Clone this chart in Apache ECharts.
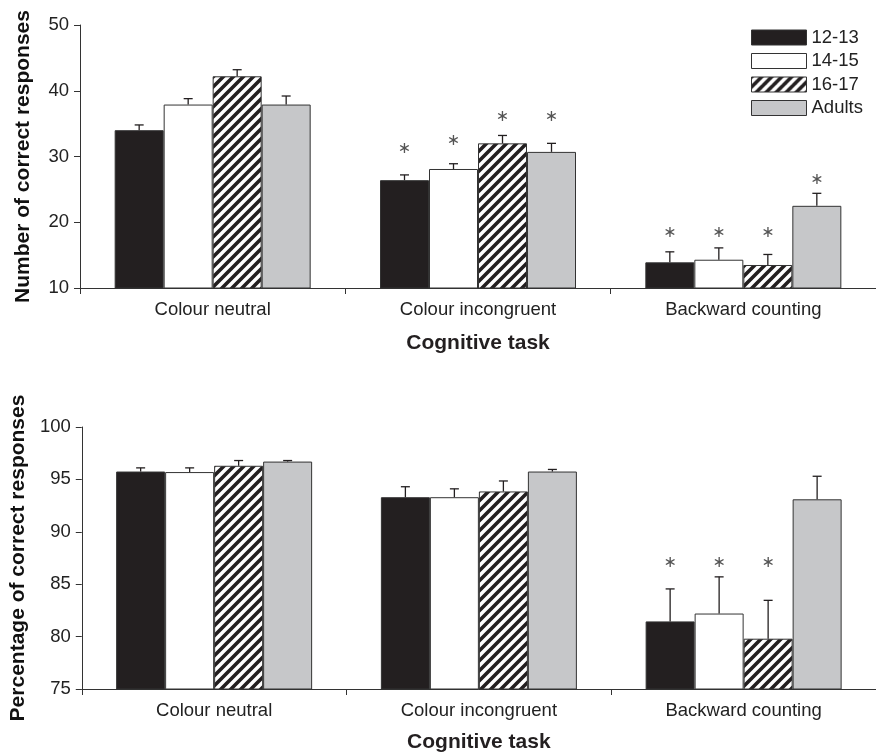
<!DOCTYPE html>
<html>
<head>
<meta charset="utf-8">
<script src="https://cdn.jsdelivr.net/npm/echarts@6/dist/echarts.min.js"></script>
<style>html,body{margin:0;padding:0;background:#fff}#c{width:876px;height:754px}</style>
</head>
<body>
<div id="c"></div>
<script>
// ---- data ----
const categories = ['Colour neutral', 'Colour incongruent', 'Backward counting'];
const groups = ['12-13', '14-15', '16-17', 'Adults'];
const countTicks = [10, 20, 30, 40, 50];
const pctTicks = [75, 80, 85, 90, 95, 100];

const count1213 = [34.0, 26.4, 13.9];
const count1415 = [37.9, 28.1, 14.3];
const count1617 = [42.2, 32.0, 13.5];
const countAdults = [37.9, 30.7, 22.5];
const countErr1213 = [0.8, 0.8, 1.6];
const countErr1415 = [0.9, 0.8, 1.8];
const countErr1617 = [1.0, 1.2, 1.6];
const countErrAdults = [1.3, 1.3, 1.9];
const countStar1213 = [null, 31.2, 18.4];
const countStar1415 = [null, 32.4, 18.4];
const countStar1617 = [null, 36.1, 18.4];
const countStarAdults = [null, 36.1, 26.5];

const pct1213 = [95.75, 93.3, 81.45];
const pct1415 = [95.7, 93.3, 82.2];
const pct1617 = [96.3, 93.85, 79.8];
const pctAdults = [96.7, 95.75, 93.1];
const pctErr1213 = [0.35, 1.0, 3.1];
const pctErr1415 = [0.4, 0.8, 3.5];
const pctErr1617 = [0.5, 1.0, 3.66];
const pctErrAdults = [0.1, 0.2, 2.2];
const pctStar1213 = [null, null, 87.0];
const pctStar1415 = [null, null, 87.0];
const pctStar1617 = [null, null, 87.0];
const pctStarAdults = [null, null, null];

// ---- styles ----
const FONT = 'Liberation Sans';
const INK = '#231f20';
const AXIS = '#333333';
const BAR_W = 49;

function makeHatch() {
  const c = document.createElement('canvas');
  c.width = 10; c.height = 10;
  const ctx = c.getContext('2d');
  ctx.fillStyle = '#ffffff';
  ctx.fillRect(0, 0, 10, 10);
  ctx.strokeStyle = INK;
  ctx.lineWidth = 3.6;
  ctx.beginPath();
  ctx.moveTo(-3, 13); ctx.lineTo(13, -3);
  ctx.moveTo(-8, 8); ctx.lineTo(8, -8);
  ctx.moveTo(2, 18); ctx.lineTo(18, 2);
  ctx.stroke();
  return c;
}
const hatch = { image: makeHatch(), repeat: 'repeat' };
const fills = [INK, '#ffffff', hatch, '#c6c7c9'];

const chart = echarts.init(document.getElementById('c'));

function yAxisCfg(gridIndex, ticks, name) {
  return {
    type: 'value', gridIndex: gridIndex,
    min: ticks[0], max: ticks[ticks.length - 1], interval: ticks[1] - ticks[0],
    name: name, nameLocation: 'middle', nameGap: 46,
    nameTextStyle: { fontFamily: FONT, fontSize: 21, fontWeight: 700, color: '#111' },
    axisLine: { show: true, lineStyle: { color: AXIS, width: 1 } },
    axisTick: { show: true, length: 6, lineStyle: { color: AXIS } },
    axisLabel: { fontFamily: FONT, fontSize: 18.5, color: '#222', margin: 11 },
    splitLine: { show: false }
  };
}
function xAxisCfg(gridIndex, gap) {
  return {
    type: 'category', gridIndex: gridIndex, data: categories,
    name: 'Cognitive task', nameLocation: 'middle', nameGap: gap,
    nameTextStyle: { fontFamily: FONT, fontSize: 21, fontWeight: 700, color: INK },
    axisLine: { show: true, lineStyle: { color: AXIS, width: 1 } },
    axisTick: { show: true, length: 6, lineStyle: { color: AXIS } },
    axisLabel: { fontFamily: FONT, fontSize: 18.5, color: '#222', margin: 12 }
  };
}

const series = [];
function addSet(gridIndex, means, errs, stars) {
  means.forEach(function (m, gi) {
    series.push({
      type: 'bar', name: groups[gi], xAxisIndex: gridIndex, yAxisIndex: gridIndex,
      data: m, barWidth: BAR_W, barGap: '0%',
      itemStyle: { color: fills[gi], borderColor: AXIS, borderWidth: 1 },
      emphasis: { disabled: true }
    });
  });
  means.forEach(function (m, gi) {
    const errArr = errs[gi], starArr = stars[gi];
    series.push({
      type: 'custom', name: groups[gi], xAxisIndex: gridIndex, yAxisIndex: gridIndex,
      z: 5, clip: false, silent: true,
      data: m.map(function (v, i) { return [i, v, errArr[i]]; }),
      renderItem: function (params, api) {
        const cat = api.value(0), v = api.value(1), e = api.value(2);
        const base = api.coord([cat, v]);
        const top = api.coord([cat, v + e]);
        const x = base[0] + (gi - 1.5) * BAR_W;
        const st = { stroke: INK, lineWidth: 1.3 };
        const children = [
          { type: 'line', shape: { x1: x, y1: base[1], x2: x, y2: top[1] }, style: st },
          { type: 'line', shape: { x1: x - 4.5, y1: top[1], x2: x + 4.5, y2: top[1] }, style: st }
        ];
        const s = starArr[params.dataIndex];
        if (s !== null && s !== undefined) {
          const sp = api.coord([cat, s]);
          children.push({
            type: 'text',
            style: { text: '\u2217', x: x, y: sp[1], fill: '#555', font: '16px "DejaVu Sans"',
              textAlign: 'center', textVerticalAlign: 'middle' }
          });
        }
        return { type: 'group', children: children };
      }
    });
  });
}
addSet(0, [count1213, count1415, count1617, countAdults],
  [countErr1213, countErr1415, countErr1617, countErrAdults],
  [countStar1213, countStar1415, countStar1617, countStarAdults]);
addSet(1, [pct1213, pct1415, pct1617, pctAdults],
  [pctErr1213, pctErr1415, pctErr1617, pctErrAdults],
  [pctStar1213, pctStar1415, pctStar1617, pctStarAdults]);

chart.setOption({
  animation: false,
  backgroundColor: '#ffffff',
  legend: {
    data: groups.map(function (g, i) { return { name: g, icon: 'rect', itemStyle: { color: fills[i], borderColor: AXIS, borderWidth: 1 } }; }),
    orient: 'vertical', left: 751, top: 28, padding: 0,
    itemWidth: 55, itemHeight: 15, itemGap: 4.5,
    textStyle: { fontFamily: FONT, fontSize: 18.5, color: '#222' },
    selectedMode: false
  },
  grid: [
    { left: 80, top: 25, width: 807, height: 263 },
    { left: 80, top: 427, width: 807, height: 262 }
  ],
  xAxis: [xAxisCfg(0, 45), xAxisCfg(1, 43)],
  yAxis: [yAxisCfg(0, countTicks, 'Number of correct responses'),
          yAxisCfg(1, pctTicks, 'Percentage of correct responses')],
  series: series
});
</script>
</body>
</html>
